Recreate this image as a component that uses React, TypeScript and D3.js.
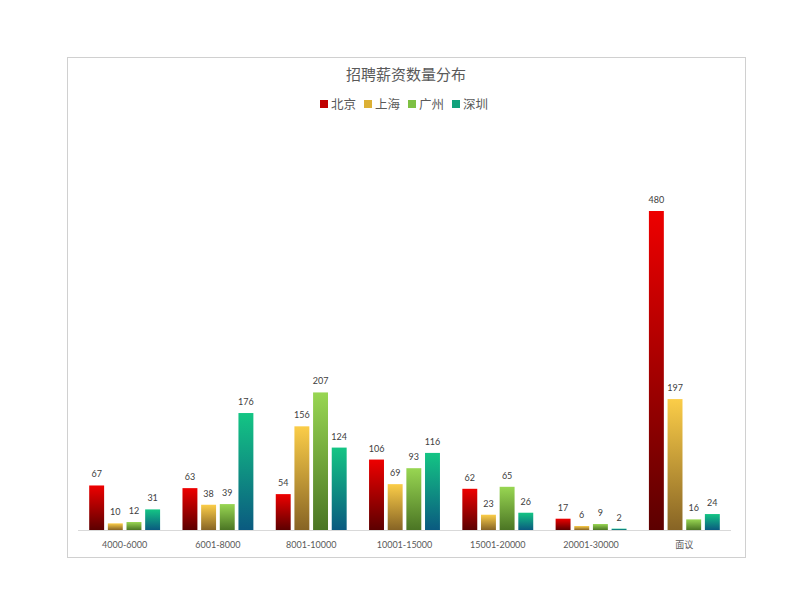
import * as d3 from "d3";

/* ------------------------------------------------------------------ */
/*  Data                                                              */
/* ------------------------------------------------------------------ */

const categories = [
  "4000-6000",
  "6001-8000",
  "8001-10000",
  "10001-15000",
  "15001-20000",
  "20001-30000",
  "面议",
];

const seriesNames = ["北京", "上海", "广州", "深圳"];

const beijing = [67, 63, 54, 106, 62, 17, 480];
const shanghai = [10, 38, 156, 69, 23, 6, 197];
const guangzhou = [12, 39, 207, 93, 65, 9, 16];
const shenzhen = [31, 176, 124, 116, 26, 2, 24];

const seriesValues = [beijing, shanghai, guangzhou, shenzhen];

/* gradient stops per series: top, bottom, legend swatch */
const palette = [
  { top: "#ee0000", bottom: "#5c0000", swatch: "#c00000" },
  { top: "#fbcd48", bottom: "#876425", swatch: "#dcb035" },
  { top: "#98d652", bottom: "#4b7524", swatch: "#7ec043" },
  { top: "#14c584", bottom: "#0a5a80", swatch: "#11a27c" },
];

/* ------------------------------------------------------------------ */
/*  Component                                                         */
/* ------------------------------------------------------------------ */

export default function App() {
  const width = 800;
  const height = 600;
  const plot = { left: 78, right: 731, top: 211, bottom: 530 };
  const font = "Lato, 'Noto Sans CJK SC', sans-serif";

  const x0 = d3
    .scaleBand<string>()
    .domain(categories)
    .range([plot.left, plot.right])
    .paddingInner(0.24)
    .paddingOuter(0.12);

  const x1 = d3
    .scaleBand<string>()
    .domain(seriesNames)
    .range([0, x0.bandwidth()])
    .paddingInner(0.2);

  const y = d3.scaleLinear().domain([0, 480]).range([plot.bottom, plot.top]);

  // legend layout
  const legendItemW = 44;
  const legendX0 = 406 - (legendItemW * seriesNames.length) / 2 + 2;

  return (
    <div style={{ position: "absolute", left: 0, top: 0 }}>
      <svg width={width} height={height} style={{ display: "block", background: "#fff" }}>
        <defs>
          {palette.map((p, i) => (
            <linearGradient key={i} id={`grad-${i}`} x1="0" y1="0" x2="0" y2="1">
              <stop offset="0%" stopColor={p.top} />
              <stop offset="100%" stopColor={p.bottom} />
            </linearGradient>
          ))}
        </defs>

        {/* Chart frame */}
        <rect x={67.5} y={57.5} width={678} height={500} fill="#fff" stroke="#d0d0d0" strokeWidth={1} />

        {/* Title */}
        <text
          x={406}
          y={80}
          textAnchor="middle"
          fontFamily={font}
          fontSize={15}
          fill="#595959"
        >
          招聘薪资数量分布
        </text>

        {/* Legend */}
        {seriesNames.map((name, i) => {
          const lx = legendX0 + i * legendItemW;
          return (
            <g key={name}>
              <rect x={lx} y={100} width={8} height={8} fill={palette[i].swatch} />
              <text x={lx + 11} y={108.5} fontFamily={font} fontSize={12.5} fill="#595959">
                {name}
              </text>
            </g>
          );
        })}

        {/* Baseline */}
        <line
          x1={plot.left}
          x2={plot.right}
          y1={plot.bottom + 0.5}
          y2={plot.bottom + 0.5}
          stroke="#d9d9d9"
          strokeWidth={1}
        />

        {/* Bars */}
        {categories.map((cat, ci) => (
          <g key={cat} transform={`translate(${x0(cat)},0)`}>
            {seriesNames.map((s, si) => {
              const v = seriesValues[si][ci];
              const bx = x1(s) ?? 0;
              const by = y(v);
              return (
                <g key={s}>
                  <rect
                    x={bx}
                    y={by}
                    width={x1.bandwidth()}
                    height={plot.bottom - by}
                    fill={`url(#grad-${si})`}
                  />
                  <text
                    x={bx + x1.bandwidth() / 2}
                    y={by - 8}
                    textAnchor="middle"
                    fontFamily={font}
                    fontSize={9}
                    fill="#404040"
                  >
                    {v}
                  </text>
                </g>
              );
            })}
            <text
              x={x0.bandwidth() / 2}
              y={548}
              textAnchor="middle"
              fontFamily={font}
              fontSize={9}
              fill="#595959"
            >
              {cat}
            </text>
          </g>
        ))}
      </svg>
    </div>
  );
}
